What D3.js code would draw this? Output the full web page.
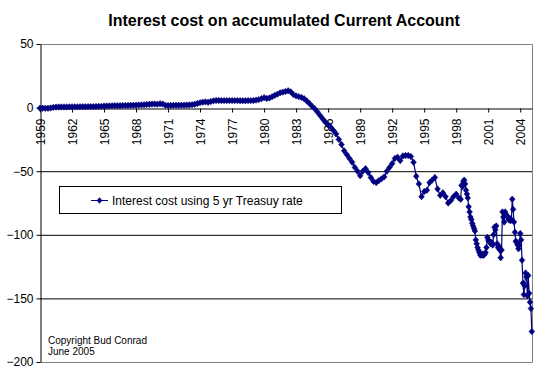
<!DOCTYPE html>
<html><head><meta charset="utf-8">
<script src="https://cdn.jsdelivr.net/npm/d3@7"></script>
<style>
html,body{margin:0;padding:0;background:#fff;}
svg{display:block;font-family:"Liberation Sans",Arial,sans-serif;}
</style></head>
<body>
<svg id="chart" width="554" height="379"></svg>
<script>
// ---- data ----
const title = "Interest cost on accumulated Current Account";
const seriesName = "Interest cost using 5 yr Treasuy rate";
const copyrightLines = ["Copyright Bud Conrad", "June 2005"];
const yTicks = [50, 0, -50, -100, -150, -200];
const xTickYears = [1959,1962,1965,1968,1971,1974,1977,1980,1983,1986,1989,1992,1995,1998,2001,2004];

// quarterly values, 1959 Q1 .. 1998 Q2
const quarterlyStart = 1959;
const quarterlyValues = [
 -0.5,-0.5,-0.5,-0.5,  -0.3,0.2,0.4,0.5,  0.5,0.5,0.5,0.6,  0.6,0.6,0.6,0.7,
 0.7,0.7,0.8,0.8,  0.8,0.9,1.0,1.0,  1.2,1.3,1.3,1.4,  1.5,1.5,1.5,1.6,
 1.6,1.7,1.8,1.8,  1.9,2.0,2.1,2.2,  2.4,2.6,2.8,2.8,  2.7,3.0,2.8,1.9,
 1.7,1.7,1.8,1.8,  1.8,1.9,1.9,2.0,  2.1,2.3,2.6,3.2,  3.9,4.3,4.5,4.2,
 4.8,5.3,5.6,5.6,  5.5,5.5,5.5,5.5,  5.5,5.5,5.5,5.4,  5.4,5.4,5.5,5.5,
 5.6,5.9,6.3,7.0,  7.8,7.2,7.6,8.6,  9.6,10.6,11.6,12.2,  12.6,13.2,12.4,10.2,
 9.2,8.6,8.0,7.0,  5.2,3.2,1.0,-1.0,  -3.5,-6.3,-9.0,-11.5,  -13.5,-15.5,-18.0,-20.7,
 -25,-29,-34,-37,  -40,-43,-47,-50,  -53.5,-50,-48,-51,  -55,-58,-59,-57.4,
 -56,-54.5,-50,-47,  -44,-40,-39,-41.7,  -38,-37.7,-37.7,-38.5,  -43,-54,-60,-70,
 -66,-65,-59,-57,  -55,-64,-69,-67,  -70,-75,-73,-70,  -68,-71
];
// monthly values, June 1998 .. early 2005
const monthlyStart = 1998 + 5/12;
const monthlyValues = [
 -72,-61,-62,-58,-57,-60,-65,-68,-71,-78,-82,-86,
 -88,-91,-93,-95,-97,-104,-107,-110,-112,-114,-116,-116,
 -115,-116,-116,-115,-114,-110,-102,-104,-105,-106,-107,-106,
 -108,-100,-94,-96,-93,-107,-110,-109,-112,-118,-112,-82,
 -86,-90,-82,-84,-85,-86,-88,-87,-89,-88,-72,-80,
 -90,-98,-105,-106,-108,-111,-108,-99,-104,-120,-138,-147,
 -140,-130,-133,-148,-132,-146,-153,-158,-176
];

// ---- build points ----
const points = [];
quarterlyValues.forEach((v,i)=>points.push({t: quarterlyStart + i/4, v}));
monthlyValues.forEach((v,i)=>points.push({t: monthlyStart + i/12, v}));

const svg = d3.select("#chart");
const navy = "#000080";
const L = 40, R = 532, T = 44, B = 362;
const x = d3.scaleLinear().domain([1959, 2005.1]).range([L, R]);
const y = d3.scaleLinear().domain([-200, 50]).range([B, T]);

// title
svg.append("text").attr("x", 284).attr("y", 26).attr("text-anchor","middle")
  .attr("font-size", 16).attr("font-weight","bold").text(title);

// gridlines
svg.append("g").selectAll("line").data([-50,-100,-150]).join("line")
  .attr("x1", L).attr("x2", R).attr("y1", d=>y(d)+0.5).attr("y2", d=>y(d)+0.5)
  .attr("stroke","#000").attr("stroke-width",1);
// plot border (gray) top, right, bottom
svg.append("path")
  .attr("d", `M${L},${Math.round(y(50))+0.5}H${R+0.5}V${Math.round(y(-200))+0.5}H${L}`)
  .attr("fill","none").attr("stroke","#808080").attr("stroke-width",1);

// y axis
const yAxis = d3.axisLeft(y).tickValues(yTicks).tickSize(4).tickSizeOuter(0).tickPadding(3);
const gy = svg.append("g").attr("transform",`translate(${L+0.5},0)`).call(yAxis);
gy.selectAll("text").attr("font-size",12).attr("fill","#000").attr("font-family","Liberation Sans, Arial, sans-serif");
gy.selectAll("line,path").attr("stroke","#000");

// x axis at 0
const xAxis = d3.axisBottom(x).tickValues(xTickYears).tickFormat(d3.format("d")).tickSize(4).tickSizeOuter(0);
const gx = svg.append("g").attr("transform",`translate(0,${Math.round(y(0))+0.5})`).call(xAxis);
gx.selectAll("line,path").attr("stroke","#000");
gx.selectAll("text")
  .attr("font-size",12).attr("fill","#000").attr("font-family","Liberation Sans, Arial, sans-serif")
  .attr("transform","rotate(-90)")
  .attr("text-anchor","end")
  .attr("x",-10).attr("y",0).attr("dy","0.35em");

// series line
const line = d3.line().x(d=>x(d.t)).y(d=>y(d.v));
svg.append("path").datum(points).attr("d", line)
  .attr("fill","none").attr("stroke",navy).attr("stroke-width",1.2);

// markers
const diamond = "M0,-3.2L2.8,0L0,3.2L-2.8,0Z";
svg.append("g").selectAll("path").data(points).join("path")
  .attr("transform", d=>`translate(${x(d.t)},${y(d.v)})`)
  .attr("d", diamond).attr("fill", navy).attr("stroke", navy).attr("stroke-width", 0.6);

// legend
const lg = svg.append("g");
lg.append("rect").attr("x",59.5).attr("y",186.5).attr("width",282).attr("height",27)
  .attr("fill","#fff").attr("stroke","#000").attr("stroke-width",1);
lg.append("line").attr("x1",91).attr("x2",108).attr("y1",200.5).attr("y2",200.5)
  .attr("stroke",navy).attr("stroke-width",1);
lg.append("path").attr("transform","translate(99.5,200.5)").attr("d",diamond).attr("fill",navy);
lg.append("text").attr("x",112).attr("y",205).attr("font-size",12).text(seriesName);

// copyright
svg.append("g").selectAll("text").data(copyrightLines).join("text")
  .attr("x",48).attr("y",(d,i)=>344 + i*11).attr("font-size",10).text(d=>d);
</script>
</body></html>
